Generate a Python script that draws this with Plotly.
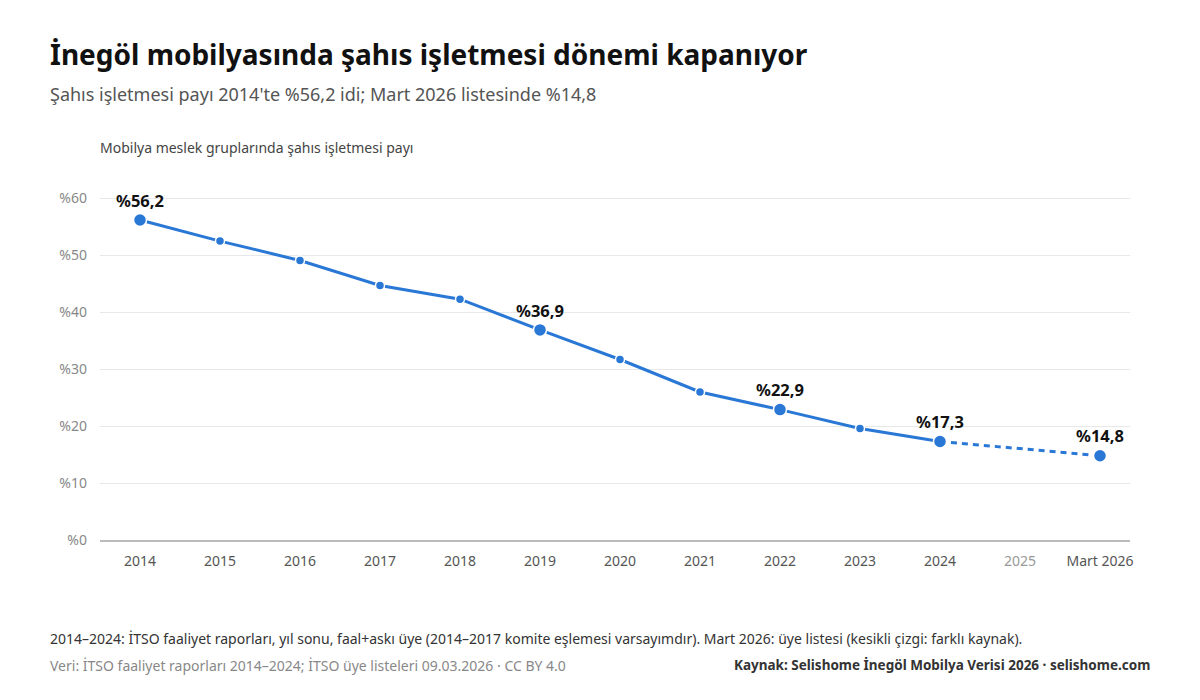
import plotly.graph_objects as go

categories = ["2014", "2015", "2016", "2017", "2018", "2019", "2020", "2021",
              "2022", "2023", "2024", "2025", "Mart 2026"]
solid_x = ["2014", "2015", "2016", "2017", "2018", "2019", "2020", "2021",
           "2022", "2023", "2024"]
solid_y = [56.2, 52.5, 49.1, 44.7, 42.3, 36.9, 31.7, 26.0, 22.9, 19.6, 17.3]
dash_x = ["2024", "Mart 2026"]
dash_y = [17.3, 14.8]
label_x = ["2014", "2019", "2022", "2024", "Mart 2026"]
label_y = [56.2, 36.9, 22.9, 17.3, 14.8]
label_text = ["%56,2", "%36,9", "%22,9", "%17,3", "%14,8"]
small_x = ["2015", "2016", "2017", "2018", "2020", "2021", "2023"]
small_y = [52.5, 49.1, 44.7, 42.3, 31.7, 26.0, 19.6]
y_ticks = [0, 10, 20, 30, 40, 50, 60]
y_ticktext = ["%0", "%10", "%20", "%30", "%40", "%50", "%60"]

BLUE = "#2a78d6"
FONT = "Segoe UI, Noto Sans, Open Sans, sans-serif"

fig = go.Figure()
fig.add_trace(go.Scatter(x=solid_x, y=solid_y, mode="lines",
                         line=dict(color=BLUE, width=3), hoverinfo="skip"))
fig.add_trace(go.Scatter(x=dash_x, y=dash_y, mode="lines",
                         line=dict(color=BLUE, width=3, dash="6px,5px"), hoverinfo="skip"))
fig.add_trace(go.Scatter(x=small_x, y=small_y, mode="markers",
                         marker=dict(color=BLUE, size=9, line=dict(color="white", width=1.5))))
fig.add_trace(go.Scatter(x=label_x, y=label_y, mode="markers+text",
                         text=label_text, textposition="top center",
                         textfont=dict(family=FONT, size=16.5, color="#111"),
                         texttemplate="<b>%{text}</b>",
                         marker=dict(color=BLUE, size=13, line=dict(color="white", width=1.5))))

ticktext = [c if c != "2025" else "<span style='color:#999'>2025</span>" for c in categories]

fig.update_layout(
    width=1200, height=700,
    paper_bgcolor="white", plot_bgcolor="white",
    showlegend=False,
    margin=dict(l=100, r=70, t=187, b=160),
    font=dict(family=FONT, color="#555", size=14),
    xaxis=dict(type="category", categoryorder="array", categoryarray=categories,
               tickvals=categories, ticktext=ticktext,
               range=[-0.5, 12.375], showgrid=False, showline=True,
               linecolor="#bbb", linewidth=2, ticks="",
               ticklabelstandoff=7,
               tickfont=dict(size=14, color="#555"), fixedrange=True),
    yaxis=dict(range=[0, 62], tickvals=y_ticks, ticktext=y_ticktext,
               showgrid=True, gridcolor="#e8e8e8", gridwidth=1,
               zeroline=False, showline=False, ticks="",
               ticklabelstandoff=12,
               tickfont=dict(size=14, color="#888"), fixedrange=True),
)

annotations = [
    dict(text="<b>İnegöl mobilyasında şahıs işletmesi dönemi kapanıyor</b>",
         x=48, y=54, font=dict(size=28, color="#111")),
    dict(text="Şahıs işletmesi payı 2014'te %56,2 idi; Mart 2026 listesinde %14,8",
         x=48, y=94, font=dict(size=18, color="#555")),
    dict(text="Mobilya meslek gruplarında şahıs işletmesi payı",
         x=98, y=147, font=dict(size=14, color="#444")),
    dict(text="2014–2024: İTSO faaliyet raporları, yıl sonu, faal+askı üye (2014–2017 komite eşlemesi varsayımdır). Mart 2026: üye listesi (kesikli çizgi: farklı kaynak).",
         x=48, y=638, font=dict(size=14, color="#333")),
    dict(text="Veri: İTSO faaliyet raporları 2014–2024; İTSO üye listeleri 09.03.2026 · CC BY 4.0",
         x=48, y=665, font=dict(size=14, color="#888")),
]
for a in annotations:
    fig.add_annotation(text=a["text"], xref="paper", yref="paper",
                       x=(a["x"] - 100) / 1030, y=(540 - a["y"]) / 353,
                       xanchor="left", yanchor="middle", showarrow=False,
                       font=dict(family=FONT, **a["font"]))
fig.add_annotation(text="<b>Kaynak: Selishome İnegöl Mobilya Verisi 2026 · selishome.com</b>",
                   xref="paper", yref="paper", x=(1152 - 100) / 1030, y=(540 - 665) / 353,
                   xanchor="right", yanchor="middle", showarrow=False,
                   font=dict(family=FONT, size=13.5, color="#333"))

fig.write_html("out.html", config={"displayModeBar": False},
               post_script="document.body.style.margin='0';")
